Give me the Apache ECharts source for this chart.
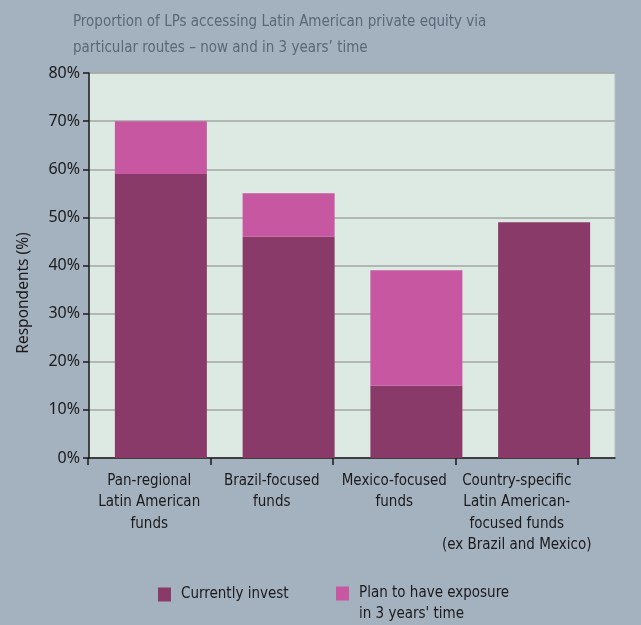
<!DOCTYPE html>
<html><head><meta charset="utf-8">
<script src="https://cdn.jsdelivr.net/npm/echarts@6/dist/echarts.min.js"></script>
<style>html,body{margin:0;padding:0;background:#a4b1bf}#c{width:641px;height:625px}</style>
</head><body><div id="c"></div>
<script>
const titleText = 'Proportion of LPs accessing Latin American private equity via\nparticular routes – now and in 3 years’ time';
const categories = ['Pan-regional\nLatin American\nfunds', 'Brazil-focused\nfunds', 'Mexico-focused\nfunds', 'Country-specific\nLatin American-\nfocused funds\n(ex Brazil and Mexico)'];
const seriesNames = ['Currently invest', "Plan to have exposure in 3 years' time"];
const currentlyInvest = [59, 46, 15, 49];
const planExposure = [11, 9, 24, 0];
const yMin = 0, yMax = 80, yStep = 10;
const yAxisName = 'Respondents (%)';

const narrow = "'DejaVu Sans Condensed', sans-serif";
const normal = "'Noto Sans', 'Open Sans', sans-serif";
const chart = echarts.init(document.getElementById('c'));
chart.setOption({
  backgroundColor: '#a4b1bf',
  animation: false,
  title: {
    text: titleText, left: 73, top: 9, padding: 0,
    textStyle: { fontFamily: narrow, fontSize: 15, fontWeight: 'normal', color: '#5a6877', lineHeight: 26 }
  },
  legend: [
    { data: [seriesNames[0]], left: 158, top: 587, padding: 0, icon: 'rect', itemWidth: 13, itemHeight: 14,
      textStyle: { fontFamily: narrow, fontSize: 15, color: '#1a1a1a', padding: [0, 0, 0, 5] } },
    { data: [seriesNames[1]], left: 336, top: 562, padding: 0, icon: 'rect', itemWidth: 13, itemHeight: 14,
      formatter: n => '\n' + n.replace(' in 3', '\nin 3'),
      textStyle: { fontFamily: narrow, fontSize: 15, color: '#1a1a1a', lineHeight: 21, padding: [0, 0, 0, 5] } }
  ],
  grid: [
    { left: 89, top: 73, width: 526, height: 385, show: true, backgroundColor: '#dde9e3', borderColor: '#b5bdb9', borderWidth: 1 },
    { left: 97, top: 73, width: 511, height: 385 },
    { left: 88, top: 128, width: 490, height: 330 }
  ],
  xAxis: [
    { gridIndex: 0, type: 'category', data: categories, axisLine: { lineStyle: { color: '#1a1a1a', width: 1.5 } }, axisTick: { show: false }, axisLabel: { show: false } },
    { gridIndex: 1, type: 'category', data: categories, show: false },
    { gridIndex: 2, type: 'category', data: categories, axisLine: { show: false },
      axisTick: { show: true, length: 7, lineStyle: { color: '#1a1a1a', width: 1.5 } },
      axisLabel: { interval: 0, fontFamily: narrow, fontSize: 15, lineHeight: 21.5, color: '#1a1a1a', margin: 12 } }
  ],
  yAxis: [
    { gridIndex: 0, type: 'value', min: yMin, max: yMax, interval: yStep,
      axisLine: { show: true, lineStyle: { color: '#1a1a1a', width: 1.5 } },
      axisTick: { show: true, length: 6, lineStyle: { color: '#1a1a1a', width: 1.5 } },
      axisLabel: { formatter: '{value}%', fontFamily: normal, fontSize: 16, color: '#1a1a1a', margin: 9 },
      splitLine: { lineStyle: { color: '#a2a7a5', width: 1.5 } } },
    { gridIndex: 1, type: 'value', min: yMin, max: yMax, show: false },
    { gridIndex: 2, type: 'value', min: 0, max: 1, axisLine: { show: false }, axisTick: { show: false }, axisLabel: { show: false }, splitLine: { show: false },
      name: yAxisName, nameLocation: 'middle', nameGap: 56,
      nameTextStyle: { fontFamily: normal, fontSize: 15.5, color: '#1a1a1a' } }
  ],
  series: [
    { name: seriesNames[0], type: 'bar', stack: 'a', xAxisIndex: 1, yAxisIndex: 1, barWidth: 92, data: currentlyInvest, itemStyle: { color: '#8a3a68' } },
    { name: seriesNames[1], type: 'bar', stack: 'a', xAxisIndex: 1, yAxisIndex: 1, barWidth: 92, data: planExposure, itemStyle: { color: '#c657a0' } }
  ]
});
</script></body></html>
